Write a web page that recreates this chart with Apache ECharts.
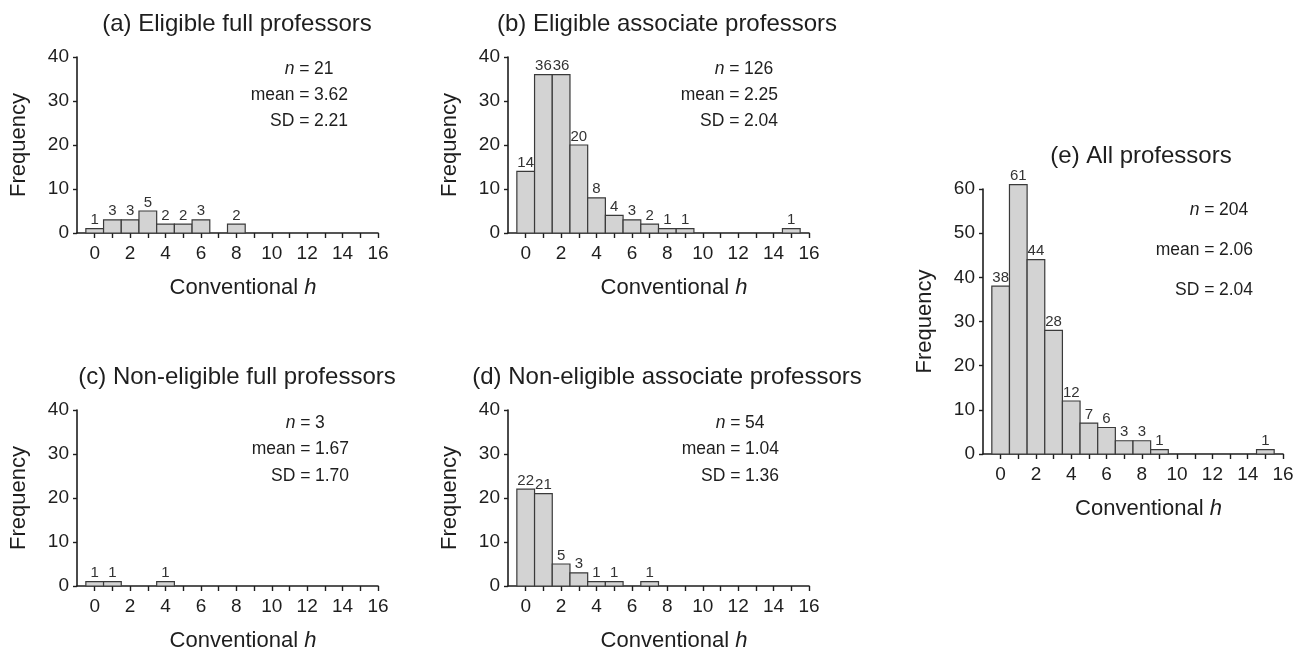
<!DOCTYPE html>
<html>
<head>
<meta charset="utf-8">
<title>Conventional h histograms</title>
<script src="https://cdn.jsdelivr.net/npm/echarts@6/dist/echarts.min.js"></script>
<style>
  html, body { margin: 0; padding: 0; background: #fff; }
  #chart { width: 1305px; height: 653px; }
</style>
</head>
<body>
<div id="chart"></div>
<script>
// h bins and frequencies
const hBins = [0, 1, 2, 3, 4, 5, 6, 7, 8, 9, 10, 11, 12, 13, 14, 15, 16];
const freqA = [1, 3, 3, 5, 2, 2, 3, 0, 2, 0, 0, 0, 0, 0, 0, 0, 0];
const freqB = [14, 36, 36, 20, 8, 4, 3, 2, 1, 1, 0, 0, 0, 0, 0, 1, 0];
const freqC = [1, 1, 0, 0, 1, 0, 0, 0, 0, 0, 0, 0, 0, 0, 0, 0, 0];
const freqD = [22, 21, 5, 3, 1, 1, 0, 1, 0, 0, 0, 0, 0, 0, 0, 0, 0];
const freqE = [38, 61, 44, 28, 12, 7, 6, 3, 3, 1, 0, 0, 0, 0, 0, 1, 0];

const xTicks = [0, 1, 2, 3, 4, 5, 6, 7, 8, 9, 10, 11, 12, 13, 14, 15, 16];
const xTickLabels = [0, 2, 4, 6, 8, 10, 12, 14, 16];

const titles = [
    '(a) Eligible full professors',
    '(b) Eligible associate professors',
    '(c) Non-eligible full professors',
    '(d) Non-eligible associate professors',
    '(e) All professors'
];
const statN = ['21', '126', '3', '54', '204'];
const statMean = ['3.62', '2.25', '1.67', '1.04', '2.06'];
const statSD = ['2.21', '2.04', '1.70', '1.36', '2.04'];
const yMax = [40, 40, 40, 40, 60];

const allFreq = [freqA, freqB, freqC, freqD, freqE];

// pixel layout of each panel
const layout = [
    { left: 77, top: 57, width: 301, height: 176, titleX: 237, titleY: 24, statX: 314, statY: [69, 95.5, 121] },
    { left: 508, top: 57, width: 301, height: 176, titleX: 667, titleY: 24, statX: 744, statY: [69, 95.5, 121] },
    { left: 77, top: 410, width: 301, height: 178, titleX: 237, titleY: 377, statX: 315, statY: [423, 449, 476] },
    { left: 508, top: 410, width: 301, height: 178, titleX: 667, titleY: 377, statX: 745, statY: [423, 449, 476] },
    { left: 983, top: 189, width: 300, height: 265, titleX: 1141, titleY: 156, statX: 1219, statY: [210, 250, 290] }
];

const FONT = '"Liberation Sans", Arial, Helvetica, sans-serif';
const INK = '#1e1e1e';

function renderBar(params, api) {
    const h = api.value(0);
    const f = api.value(1);
    if (!f) return;
    const p0 = api.coord([h - 0.5, f]);
    const p1 = api.coord([h + 0.5, 0]);
    return {
        type: 'group',
        children: [
            {
                type: 'rect',
                shape: { x: p0[0], y: p0[1], width: p1[0] - p0[0], height: p1[1] - p0[1] },
                style: { fill: '#d3d3d3', stroke: '#3a3a3a', lineWidth: 1.2 }
            },
            {
                type: 'text',
                x: (p0[0] + p1[0]) / 2,
                y: p0[1] - 1,
                style: {
                    text: String(f),
                    textAlign: 'center',
                    textVerticalAlign: 'bottom',
                    fontSize: 15,
                    fontFamily: FONT,
                    fill: '#333'
                }
            }
        ]
    };
}

const grid = [], xAxis = [], yAxis = [], series = [], graphic = [];

layout.forEach((L, i) => {
    grid.push({ left: L.left, top: L.top, width: L.width, height: L.height });

    xAxis.push({
        type: 'value',
        gridIndex: i,
        min: -1,
        max: 16,
        interval: 1,
        name: 'Conventional {i|h}',
        nameLocation: 'middle',
        nameGap: 44,
        nameTextStyle: {
            fontSize: 22, fontFamily: FONT, color: INK, padding: [0, 0, 0, 31],
            rich: { i: { fontSize: 22, fontFamily: FONT, fontStyle: 'italic', color: INK } }
        },
        axisLine: { show: true, onZero: false, lineStyle: { color: INK, width: 1.6 } },
        axisTick: { show: true, length: 5, customValues: xTicks, lineStyle: { color: INK, width: 1.4 } },
        axisLabel: { customValues: xTickLabels, margin: 11, fontSize: 19, fontFamily: FONT, color: INK },
        splitLine: { show: false }
    });

    yAxis.push({
        type: 'value',
        gridIndex: i,
        min: 0,
        max: yMax[i],
        interval: 10,
        name: 'Frequency',
        nameLocation: 'middle',
        nameGap: 47,
        nameTextStyle: { fontSize: 22, fontFamily: FONT, color: INK },
        axisLine: { show: true, onZero: false, lineStyle: { color: INK, width: 1.6 } },
        axisTick: { show: true, length: 4, lineStyle: { color: INK, width: 1.4 } },
        axisLabel: { margin: 8, fontSize: 19, fontFamily: FONT, color: INK },
        splitLine: { show: false }
    });

    series.push({
        type: 'custom',
        xAxisIndex: i,
        yAxisIndex: i,
        clip: false,
        renderItem: renderBar,
        data: hBins.map((h, k) => [h, allFreq[i][k]])
    });

    graphic.push({
        type: 'text',
        x: L.titleX,
        y: L.titleY,
        style: {
            text: titles[i], textAlign: 'center', textVerticalAlign: 'middle',
            fontSize: 24, fontFamily: FONT, fill: INK
        }
    });

    const lefts = ['{i|n} =', 'mean =', 'SD ='];
    const rights = [statN[i], statMean[i], statSD[i]];
    lefts.forEach((txt, j) => {
        graphic.push({
            type: 'text',
            x: L.statX - 4.5,
            y: L.statY[j],
            style: {
                text: txt, textAlign: 'right', textVerticalAlign: 'middle',
                fontSize: 17.5, fontFamily: FONT, fill: INK,
                rich: { i: { fontSize: 17.5, fontFamily: FONT, fontStyle: 'italic', fill: INK } }
            }
        });
        graphic.push({
            type: 'text',
            x: L.statX,
            y: L.statY[j],
            style: {
                text: rights[j], textAlign: 'left', textVerticalAlign: 'middle',
                fontSize: 17.5, fontFamily: FONT, fill: INK
            }
        });
    });
});

const chart = echarts.init(document.getElementById('chart'));
chart.setOption({
    backgroundColor: '#fff',
    animation: false,
    grid: grid,
    xAxis: xAxis,
    yAxis: yAxis,
    series: series,
    graphic: graphic
});
</script>
</body>
</html>
